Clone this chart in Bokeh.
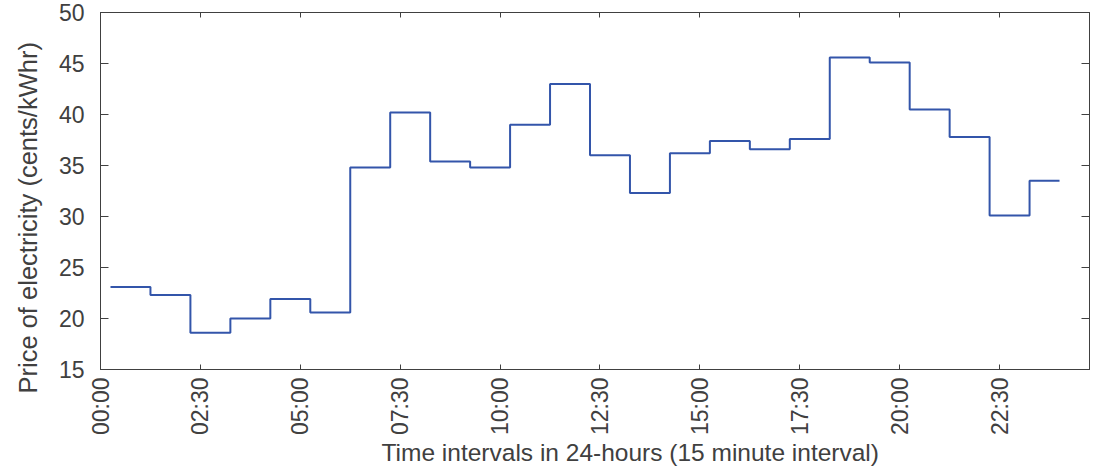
from bokeh.plotting import figure
from bokeh.models import Range1d, FixedTicker, LinearAxis, Title
from bokeh.embed import file_html
from bokeh.resources import INLINE
import math

# 15-minute interval index where each hourly price step starts (and final end)
interval_starts = [1, 5, 9, 13, 17, 21, 25, 29, 33, 37, 41, 45,
                   49, 53, 57, 61, 65, 69, 73, 77, 81, 85, 89, 93]
interval_end = 96
prices = [23.1, 22.3, 18.6, 20.0, 21.9, 20.6, 34.8, 40.2, 35.4, 34.8, 39.0, 43.0,
          36.0, 32.3, 36.2, 37.4, 36.6, 37.6, 45.6, 45.1, 40.5, 37.8, 30.1, 33.5]

tick_positions = [0, 10, 20, 30, 40, 50, 60, 70, 80, 90]
tick_labels = ["00:00", "02:30", "05:00", "07:30", "10:00",
               "12:30", "15:00", "17:30", "20:00", "22:30"]
y_ticks = [15, 20, 25, 30, 35, 40, 45, 50]
x_title = "Time intervals in 24-hours (15 minute interval)"
y_title = "Price of electricity (cents/kWhr)"

xs = interval_starts + [interval_end]
ys = prices + [prices[-1]]

FONT = "Liberation Sans"
TXT = "#404040"

p = figure(width=1094, height=467, output_backend="svg", toolbar_location=None,
           x_range=Range1d(0, 99), y_range=Range1d(15, 50),
           min_border_left=99, min_border_right=5, min_border_top=12,
           min_border_bottom=98, x_axis_location="below", y_axis_location="left")
p.xgrid.visible = False
p.ygrid.visible = False
p.outline_line_color = TXT
p.background_fill_color = "white"
p.border_fill_color = "white"

p.step(xs, ys, mode="after", line_color="#3355aa", line_width=2)

xa = p.xaxis[0]
xa.ticker = FixedTicker(ticks=tick_positions)
xa.major_label_overrides = {t: l for t, l in zip(tick_positions, tick_labels)}
xa.major_label_orientation = math.pi / 2

ya = p.yaxis[0]
ya.ticker = FixedTicker(ticks=y_ticks)

for ax in (xa, ya):
    ax.axis_line_color = TXT
    ax.major_tick_line_color = TXT
    ax.minor_tick_line_color = None
    ax.major_tick_out = 0
    ax.major_label_text_font = FONT
    ax.major_label_text_font_size = "23px"
    ax.major_label_text_color = TXT
xa.major_tick_in = 5
ya.major_tick_in = 8
xa.major_label_standoff = 8
ya.major_label_standoff = 16

top = LinearAxis(ticker=FixedTicker(ticks=tick_positions))
right = LinearAxis(ticker=FixedTicker(ticks=y_ticks))
for ax, tin in ((top, 5), (right, 8)):
    ax.axis_line_color = TXT
    ax.major_tick_line_color = TXT
    ax.minor_tick_line_color = None
    ax.major_tick_out = 0
    ax.major_tick_in = tin
    ax.major_label_text_font_size = "0px"
    ax.major_label_standoff = 0
    ax.major_label_text_alpha = 0
p.add_layout(top, "above")
p.add_layout(right, "right")

p.add_layout(Title(text=x_title, align="left", offset=281, standoff=0,
                   vertical_align="top",
                   text_font=FONT, text_font_size="24.5px", text_color=TXT,
                   text_font_style="normal"), "below")
p.add_layout(Title(text=y_title, align="left", offset=-24, standoff=25,
                   vertical_align="middle",
                   text_font=FONT, text_font_size="25.5px", text_color=TXT,
                   text_font_style="normal"), "left")

open("out.html", "w").write(file_html(p, INLINE))
